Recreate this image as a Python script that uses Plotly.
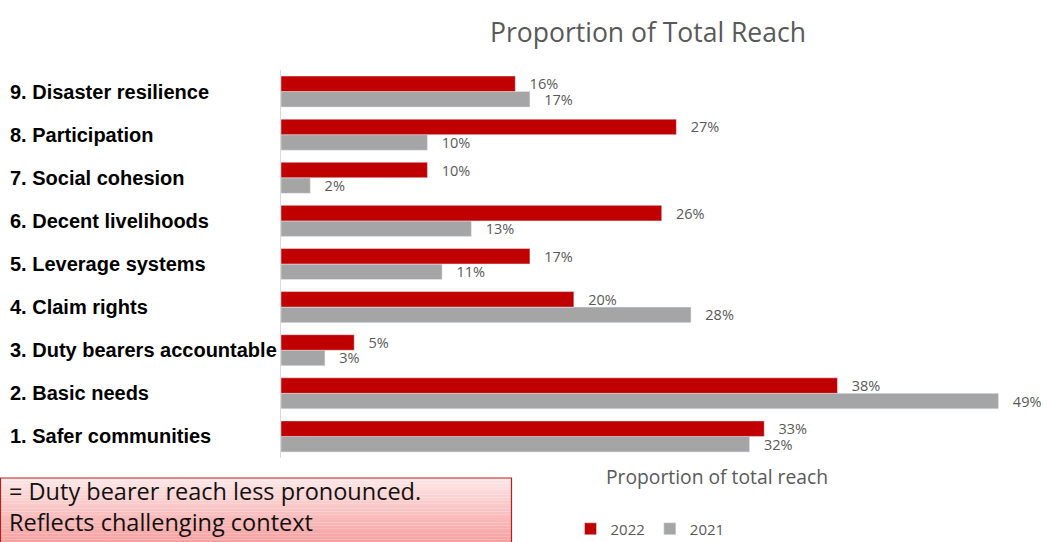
import plotly.graph_objects as go

categories = ["1. Safer communities", "2. Basic needs", "3. Duty bearers accountable",
              "4. Claim rights", "5. Leverage systems", "6. Decent livelihoods",
              "7. Social cohesion", "8. Participation", "9. Disaster resilience"]
values_2022 = [33, 38, 5, 20, 17, 26, 10, 27, 16]
values_2021 = [32, 49, 3, 28, 11, 13, 2, 10, 17]

W, H = 1047, 542
L, R, T, B = 281, 47, 70, 84
pw = W - L - R
ph = H - T - B

def px_x(p):
    return (p - L) / pw

def px_y(p):
    return (H - B - p) / ph

label_font = dict(family="Open Sans", size=14.5, color="#595959")
pad = "\u00a0\u00a0\u00a0"

fig = go.Figure()
fig.add_trace(go.Bar(
    y=categories, x=values_2021, name="2021", orientation="h",
    marker=dict(color="#A5A5A5"),
    texttemplate=pad + "%{x}%", textposition="outside", textfont=label_font,
    constraintext="none", cliponaxis=False,
))
fig.add_trace(go.Bar(
    y=categories, x=values_2022, name="2022", orientation="h",
    marker=dict(color="#C00000"),
    texttemplate=pad + "%{x}%", textposition="outside", textfont=label_font,
    constraintext="none", cliponaxis=False,
))

annotations = []
for c in categories:
    annotations.append(dict(
        x=px_x(8), xref="paper", y=c, yref="y", text="<b>" + c + "</b>",
        showarrow=False, xanchor="left", yanchor="middle",
        font=dict(family="Liberation Sans", size=20, color="#000000"),
    ))
annotations.append(dict(
    x=px_x(717), xref="paper", y=px_y(476), yref="paper",
    text="Proportion of total reach", showarrow=False,
    xanchor="center", yanchor="middle",
    font=dict(family="Open Sans", size=19.3, color="#595959"),
))
annotations.append(dict(
    x=px_x(7), xref="paper", y=px_y(506), yref="paper",
    text="= Duty bearer reach less pronounced.<br>Reflects challenging context",
    showarrow=False, xanchor="left", yanchor="middle", align="left",
    font=dict(family="Open Sans", size=23.5, color="#111111"),
))

# gradient box (pink) via stacked strips
shapes = []
top, bot = 478, 545
n = 24
c0 = (253, 230, 230)
c1 = (246, 158, 158)
for i in range(n):
    t = i / (n - 1)
    col = tuple(int(c0[k] + (c1[k] - c0[k]) * t) for k in range(3))
    y0 = top + (bot - top) * i / n
    y1 = top + (bot - top) * (i + 1) / n
    shapes.append(dict(type="rect", xref="paper", yref="paper",
                       x0=px_x(0), x1=px_x(512), y0=px_y(y1), y1=px_y(y0),
                       fillcolor="rgb(%d,%d,%d)" % col, line=dict(width=0), layer="below"))
shapes.append(dict(type="rect", xref="paper", yref="paper",
                   x0=px_x(0.5), x1=px_x(511.5), y0=px_y(548), y1=px_y(478),
                   fillcolor="rgba(0,0,0,0)", line=dict(color="#B22222", width=1.2), layer="below"))

fig.update_layout(
    width=W, height=H,
    margin=dict(l=L, r=R, t=T, b=B, autoexpand=False),
    paper_bgcolor="white", plot_bgcolor="white",
    barmode="group", bargap=0.28, bargroupgap=0.0,
    title=dict(text="Proportion of Total Reach", x=648 / W, y=1 - 33 / H,
               xanchor="center", yanchor="middle",
               font=dict(family="Open Sans", size=26.5, color="#595959")),
    xaxis=dict(range=[0, 49.1], showticklabels=False, showgrid=False,
               zeroline=False, showline=False, fixedrange=True),
    yaxis=dict(showticklabels=False, showgrid=False, zeroline=False,
               showline=True, linecolor="#D9D9D9", linewidth=1, ticks="", fixedrange=True),
    legend=dict(orientation="h", xref="container", x=650 / W, xanchor="center",
                yref="container", y=1 - 529 / H, yanchor="middle",
                traceorder="reversed", font=dict(family="Open Sans", size=15, color="#595959"),
                itemwidth=30, tracegroupgap=0),
    annotations=annotations,
    shapes=shapes,
    showlegend=True,
)

fig.write_html("out.html", config={"displayModeBar": False},
               post_script="document.body.style.margin='0px';")
